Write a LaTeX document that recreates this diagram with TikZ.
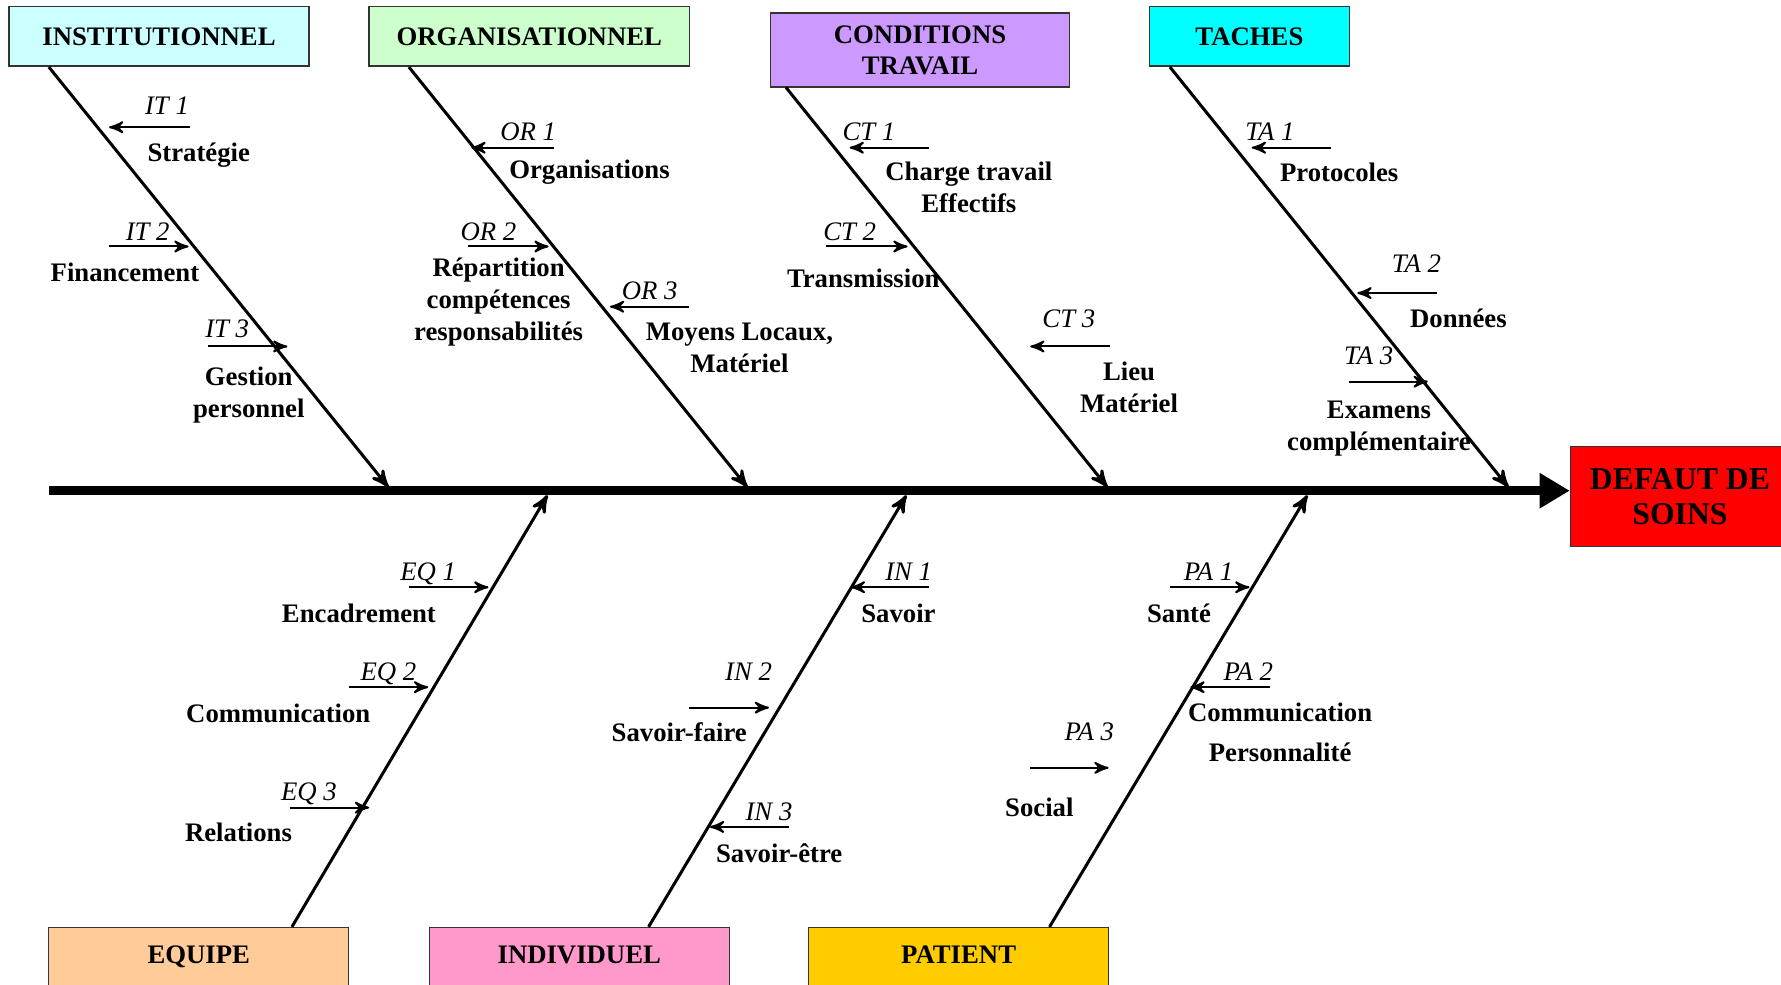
\documentclass[tikz,border=0pt]{standalone}
\usepackage{fontspec}
\setmainfont{Liberation Serif}
\usetikzlibrary{arrows,arrows.meta}
\definecolor{instit}{HTML}{CCFFFF}
\definecolor{organ}{HTML}{CCFFCC}
\definecolor{condit}{HTML}{CC99FF}
\definecolor{taches}{HTML}{00FFFF}
\definecolor{defaut}{HTML}{FF0000}
\definecolor{equipe}{HTML}{FFCC99}
\definecolor{individ}{HTML}{FF99CC}
\definecolor{patient}{HTML}{FFCC00}

\begin{document}
\begin{tikzpicture}[x=0.34pt,y=-0.34pt,>=stealth']
  \tikzstyle{cause}=[draw=black!80,thin,align=center,inner sep=2pt,
                     font=\fontsize{8}{9.3}\selectfont\bfseries]
  \tikzstyle{causebas}=[cause,anchor=north,minimum width=89.8pt,inner ysep=3pt,
                        text height=7.9pt,text depth=7pt]
  \tikzstyle{bone}=[->,line width=0.9pt]
  \tikzstyle{sub}=[->,line width=0.6pt]
  \tikzstyle{tag}=[inner sep=0pt,anchor=base,font=\fontsize{8}{9}\selectfont\itshape]
  \tikzstyle{item}=[inner sep=0pt,align=center,font=\fontsize{8}{9.5}\selectfont\bfseries]

  \useasboundingbox (0,0) rectangle (1568,867);

  % categories
  \node[cause,fill=instit,minimum width=89.8pt,minimum height=17.7pt] (it) at (140,32) {INSTITUTIONNEL};
  \node[cause,fill=organ,minimum width=95.9pt,minimum height=17.7pt] (or) at (466,32) {ORGANISATIONNEL};
  \node[cause,fill=condit,minimum width=89.4pt,minimum height=22.1pt] (ct) at (810,44) {CONDITIONS\\TRAVAIL};
  \node[cause,fill=taches,minimum width=59.8pt,minimum height=17.7pt] (ta) at (1100,32) {TACHES};
  \node[causebas,fill=equipe] (eq) at (175,816) {EQUIPE};
  \node[causebas,fill=individ] (in) at (510,816) {INDIVIDUEL};
  \node[causebas,fill=patient] (pa) at (844,816) {PATIENT};
  \node[cause,fill=defaut,anchor=west,minimum width=65.6pt,minimum height=29.9pt,
        font=\fontsize{9.5}{10.5}\selectfont\bfseries] (defaut) at (1382,437) {DEFAUT DE\\SOINS};

  % spine
  \coordinate (queue) at (43,432);
  \draw[line width=2.8pt,-{Triangle[length=9pt,width=10pt]}] (queue) -- (queue -| defaut.west);

  % bones
  \coordinate (it0) at (43,59);    \coordinate (itx) at (342,429);
  \coordinate (or0) at (360,59);   \coordinate (orx) at (658,429);
  \coordinate (ct0) at (692,77);   \coordinate (ctx) at (975,429);
  \coordinate (ta0) at (1030,59);  \coordinate (tax) at (1328,429);
  \coordinate (eq0) at (257,816);  \coordinate (eqx) at (482,436);
  \coordinate (in0) at (571,816);  \coordinate (inx) at (798,436);
  \coordinate (pa0) at (924,816);  \coordinate (pax) at (1151,436);

  \path (it0) edge[bone] (itx)
        (or0) edge[bone] (orx)
        (ct0) edge[bone] (ctx)
        (ta0) edge[bone] (tax)
        (eq0) edge[bone] (eqx)
        (in0) edge[bone] (inx)
        (pa0) edge[bone] (pax);

  % institutionnel
  \coordinate (it1a) at (167,112); \coordinate (it1b) at (96,112);
  \node[tag] (it1) at (147,101) {IT 1};
  \node[item] (it1t) at (175,137) {Stratégie};
  \coordinate (it2a) at (96,217); \coordinate (it2b) at (166,217);
  \node[tag] (it2) at (130,212) {IT 2};
  \node[item] (it2t) at (110,240) {Financement};
  \coordinate (it3a) at (183,305); \coordinate (it3b) at (253,305);
  \node[tag] (it3) at (200,297) {IT 3};
  \node[item] (it3t) at (219,348) {Gestion\\personnel};

  % organisationnel
  \coordinate (or1a) at (488,130); \coordinate (or1b) at (415,130);
  \node[tag] (or1) at (465,124) {OR 1};
  \node[item] (or1t) at (519,152) {Organisations};
  \coordinate (or2a) at (412,217); \coordinate (or2b) at (483,217);
  \node[tag] (or2) at (430,212) {OR 2};
  \node[item] (or2t) at (439,266) {Répartition\\compétences\\responsabilités};
  \coordinate (or3a) at (607,270); \coordinate (or3b) at (537,270);
  \node[tag] (or3) at (572,264) {OR 3};
  \node[item] (or3t) at (651,306) {Moyens Locaux,\\Matériel};

  % conditions travail
  \coordinate (ct1a) at (818,130); \coordinate (ct1b) at (748,130);
  \node[tag] (ct1) at (765,124) {CT 1};
  \node[item] (ct1t) at (853,165) {Charge travail\\Effectifs};
  \coordinate (ct2a) at (727,217); \coordinate (ct2b) at (799,217);
  \node[tag] (ct2) at (748,212) {CT 2};
  \node[item] (ct2t) at (760,245) {Transmission};
  \coordinate (ct3a) at (977,305); \coordinate (ct3b) at (907,305);
  \node[tag] (ct3) at (941,288) {CT 3};
  \node[item] (ct3t) at (994,341) {Lieu\\Matériel};

  % taches
  \coordinate (ta1a) at (1172,130); \coordinate (ta1b) at (1102,130);
  \node[tag] (ta1) at (1118,124) {TA 1};
  \node[item] (ta1t) at (1179,152) {Protocoles};
  \coordinate (ta2a) at (1265,258); \coordinate (ta2b) at (1195,258);
  \node[tag] (ta2) at (1247,240) {TA 2};
  \node[item] (ta2t) at (1284,280) {Données};
  \coordinate (ta3a) at (1188,336); \coordinate (ta3b) at (1257,336);
  \node[tag] (ta3) at (1205,321) {TA 3};
  \node[item] (ta3t) at (1214,377) {Examens\\complémentaire};

  % equipe
  \coordinate (eq1a) at (360,517); \coordinate (eq1b) at (430,517);
  \node[tag] (eq1) at (377,511) {EQ 1};
  \node[item] (eq1t) at (316,540) {Encadrement};
  \coordinate (eq2a) at (307,605); \coordinate (eq2b) at (377,605);
  \node[tag] (eq2) at (342,599) {EQ 2};
  \node[item] (eq2t) at (245,628) {Communication};
  \coordinate (eq3a) at (255,711); \coordinate (eq3b) at (325,711);
  \node[tag] (eq3) at (272,705) {EQ 3};
  \node[item] (eq3t) at (210,733) {Relations};

  % individuel
  \coordinate (in1a) at (818,517); \coordinate (in1b) at (749,517);
  \node[tag] (in1) at (800,511) {IN 1};
  \node[item] (in1t) at (791,540) {Savoir};
  \coordinate (in2a) at (607,623); \coordinate (in2b) at (677,623);
  \node[tag] (in2) at (659,599) {IN 2};
  \node[item] (in2t) at (598,645) {Savoir-faire};
  \coordinate (in3a) at (695,728); \coordinate (in3b) at (625,728);
  \node[tag] (in3) at (677,722) {IN 3};
  \node[item] (in3t) at (686,751) {Savoir-être};

  % patient
  \coordinate (pa1a) at (1030,517); \coordinate (pa1b) at (1100,517);
  \node[tag] (pa1) at (1064,511) {PA 1};
  \node[item] (pa1t) at (1038,540) {Santé};
  \coordinate (pa2a) at (1118,605); \coordinate (pa2b) at (1048,605);
  \node[tag] (pa2) at (1099,599) {PA 2};
  \node[item] (pa2t) at (1127,645) {Communication\\[2.5pt]Personnalité};
  \coordinate (pa3a) at (907,676); \coordinate (pa3b) at (976,676);
  \node[tag] (pa3) at (959,652) {PA 3};
  \node[item] (pa3t) at (915,711) {Social};

  \path (it1a) edge[sub] (it1b)  (it2a) edge[sub] (it2b)  (it3a) edge[sub] (it3b)
        (or1a) edge[sub] (or1b)  (or2a) edge[sub] (or2b)  (or3a) edge[sub] (or3b)
        (ct1a) edge[sub] (ct1b)  (ct2a) edge[sub] (ct2b)  (ct3a) edge[sub] (ct3b)
        (ta1a) edge[sub] (ta1b)  (ta2a) edge[sub] (ta2b)  (ta3a) edge[sub] (ta3b)
        (eq1a) edge[sub] (eq1b)  (eq2a) edge[sub] (eq2b)  (eq3a) edge[sub] (eq3b)
        (in1a) edge[sub] (in1b)  (in2a) edge[sub] (in2b)  (in3a) edge[sub] (in3b)
        (pa1a) edge[sub] (pa1b)  (pa2a) edge[sub] (pa2b)  (pa3a) edge[sub] (pa3b);

\end{tikzpicture}
\end{document}
